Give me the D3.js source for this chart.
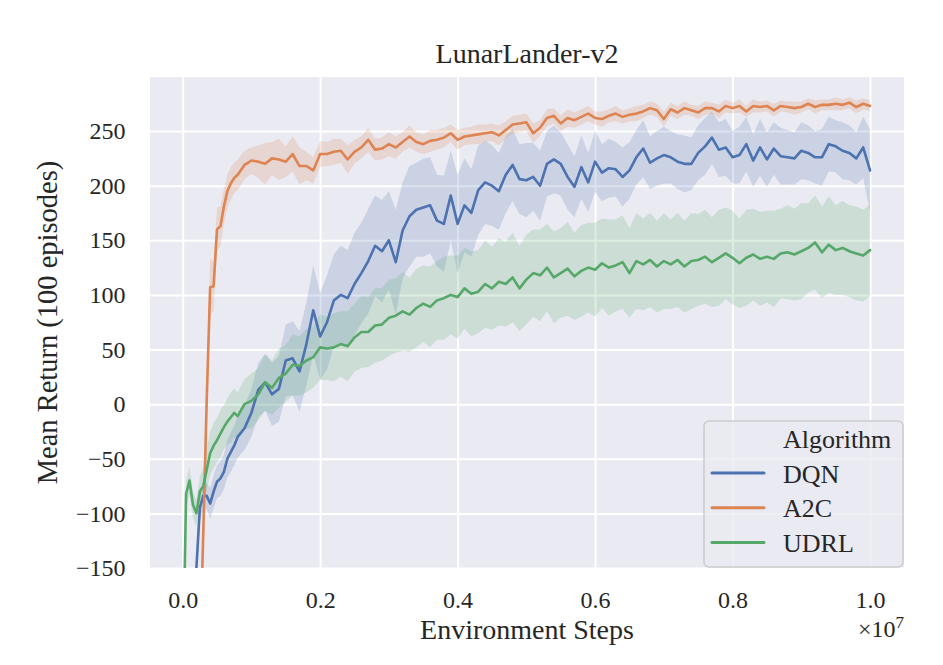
<!DOCTYPE html>
<html>
<head>
<meta charset="utf-8">
<script src="https://cdn.jsdelivr.net/npm/d3@7"></script>
<style>
  body { margin: 0; background: #fff; }
  text { font-family: "Liberation Serif", "Times New Roman", serif; fill: #262626; }
</style>
</head>
<body>
<div id="chart"></div>
<script>
// environment steps, in units of 1e7
const steps = [0, 0.005, 0.01, 0.015, 0.02, 0.025, 0.03, 0.035, 0.04, 0.045, 0.05, 0.055, 0.06, 0.065, 0.07, 0.075, 0.08,
  0.09, 0.10, 0.11, 0.12, 0.13, 0.14, 0.15, 0.16, 0.17, 0.18, 0.19, 0.20, 0.21, 0.22, 0.23, 0.24, 0.25, 0.26, 0.27, 0.28,
  0.29, 0.30, 0.31, 0.32, 0.33, 0.34, 0.35, 0.36, 0.37, 0.38, 0.39, 0.40, 0.41, 0.42, 0.43, 0.44, 0.45, 0.46, 0.47, 0.48,
  0.49, 0.50, 0.51, 0.52, 0.53, 0.54, 0.55, 0.56, 0.57, 0.58, 0.59, 0.60, 0.61, 0.62, 0.63, 0.64, 0.65, 0.66, 0.67, 0.68,
  0.69, 0.70, 0.71, 0.72, 0.73, 0.74, 0.75, 0.76, 0.77, 0.78, 0.79, 0.80, 0.81, 0.82, 0.83, 0.84, 0.85, 0.86, 0.87, 0.88,
  0.89, 0.90, 0.91, 0.92, 0.93, 0.94, 0.95, 0.96, 0.97, 0.98, 0.99, 1.00];

const dqn_mean = [-400, -400, -400, -300, -150, -95, -84, -84, -91, -80, -71, -68, -62, -50, -44, -38, -30,
  -22, -8, 13, 20, 9, 14, 40, 42, 30, 55,
  86, 62, 75, 95, 100, 97, 110, 120, 131, 145,
  140, 150, 130, 159, 172, 178, 180, 182, 168, 165,
  191, 165, 182, 175, 196, 203, 200, 195, 210, 219,
  206, 205, 208, 200, 220, 224, 220, 208, 199, 217,
  203, 222, 212, 216, 215, 208, 214, 226, 234, 221,
  225, 228, 226, 222, 220, 220, 230, 236, 244, 233,
  235, 226, 228, 238, 223, 235, 224, 234, 227, 226,
  225, 232, 230, 226, 226, 238, 236, 232, 230, 225,
  235, 214];
const dqn_ci = [10, 10, 10, 10, 12, 12, 13, 12, 14, 15, 15, 16, 16, 17, 18, 18, 19,
  20, 22, 25, 26, 29, 30, 33, 34, 37, 38,
  41, 40, 43, 42, 45, 44, 47, 46, 48, 46,
  47, 45, 48, 44, 46, 43, 45, 44, 42, 44,
  41, 45, 43, 40, 41, 38, 37, 35, 35, 33,
  32, 34, 31, 32, 30, 31, 29, 30, 28, 29,
  27, 28, 26, 27, 25, 27, 26, 25, 26, 24,
  25, 26, 24, 25, 26, 24, 25, 26, 24, 25,
  26, 24, 26, 25, 24, 26, 25, 24, 26, 25,
  24, 26, 25, 24, 26, 25, 24, 26, 25, 24,
  28, 38];

const a2c_mean = [-400, -400, -400, -400, -400, -238, -118, 4, 107, 108, 160, 163, 181, 195, 202, 207, 210,
  219, 223, 222, 220, 225, 224, 222, 229, 218, 218,
  214, 229, 229, 231, 232, 224, 231, 235, 242, 233,
  234, 238, 235, 240, 245, 240, 238, 241, 242, 244,
  248, 242, 245, 246, 247, 248, 249, 246, 251, 256,
  257, 258, 248, 253, 262, 264, 257, 262, 260, 263,
  266, 262, 261, 264, 266, 263, 265, 266, 268, 271,
  269, 261, 270, 267, 271, 269, 267, 271, 271, 268,
  273, 271, 273, 268, 273, 272, 273, 269, 273, 272,
  271, 272, 275, 272, 274, 274, 275, 274, 276, 272,
  275, 273];
const a2c_ci = [10, 10, 10, 10, 10, 20, 25, 25, 26, 22, 20, 18, 16, 15, 15, 14, 14,
  13, 12, 15, 19, 15, 19, 14, 16, 17, 13,
  12, 12, 11, 12, 11, 13, 11, 10, 11, 10,
  10, 11, 10, 9, 10, 9, 9, 10, 9, 9,
  8, 9, 8, 8, 9, 8, 8, 9, 8, 8,
  8, 8, 9, 7, 8, 7, 7, 8, 7, 7,
  7, 6, 7, 6, 7, 6, 6, 7, 6, 6,
  6, 7, 6, 6, 6, 5, 6, 6, 5, 6,
  6, 5, 6, 5, 6, 5, 5, 6, 5, 5,
  6, 5, 5, 6, 5, 5, 6, 5, 5, 6,
  5, 5];

const udrl_mean = [-260, -82, -70, -92, -100, -80, -75, -60, -45, -38, -33, -27, -21, -16, -12, -8, -11,
  0, 3, 9, 20, 15, 24, 28, 36, 35, 40,
  43, 52, 51, 52, 55, 53, 61, 66, 66, 72,
  73, 79, 81, 85, 82, 88, 92, 89, 95, 97,
  100, 98, 106, 101, 103, 110, 106, 112, 110, 116,
  106, 114, 120, 118, 125, 116, 120, 124, 117, 122,
  125, 123, 129, 125, 127, 130, 120, 131, 128, 132,
  126, 131, 128, 132, 126, 131, 132, 135, 130, 134,
  138, 134, 129, 134, 137, 133, 135, 133, 138, 139,
  137, 140, 143, 148, 139, 146, 141, 143, 140, 138,
  136, 141];
const udrl_ci = [10, 12, 13, 12, 12, 14, 16, 18, 20, 21, 20, 22, 20, 21, 23, 22, 22,
  23, 25, 24, 26, 25, 27, 26, 28, 27, 29,
  28, 30, 29, 31, 30, 32, 31, 33, 32, 34,
  33, 35, 34, 36, 34, 36, 35, 37, 36, 38,
  36, 38, 37, 39, 38, 40, 38, 40, 39, 41,
  39, 41, 40, 42, 40, 42, 41, 43, 40, 42,
  41, 43, 41, 44, 42, 43, 41, 44, 42, 43,
  42, 44, 41, 43, 42, 44, 42, 43, 41, 44,
  42, 43, 41, 44, 42, 43, 42, 44, 41, 43,
  42, 44, 41, 43, 42, 44, 41, 43, 42, 43,
  42, 42];

const algos = ['DQN', 'A2C', 'UDRL'];
const colors = ['#4c72b0', '#dd8452', '#55a868'];
const x_ticks = [0, 0.2, 0.4, 0.6, 0.8, 1.0];
const y_ticks = [-150, -100, -50, 0, 50, 100, 150, 200, 250];

const WIDTH = 943, HEIGHT = 665;
const PLOT = { LEFT: 150, RIGHT: 904, TOP: 77, BOTTOM: 568 };

let series = [
  { name: 'DQN', mean: dqn_mean, ci: dqn_ci },
  { name: 'A2C', mean: a2c_mean, ci: a2c_ci },
  { name: 'UDRL', mean: udrl_mean, ci: udrl_ci }
];

let svg = d3.select('#chart').append('svg')
  .attr('width', WIDTH)
  .attr('height', HEIGHT);

let x = d3.scaleLinear().domain([-0.0475, 1.0494]).range([PLOT.LEFT, PLOT.RIGHT]);
let y = d3.scaleLinear().domain([-150, 299.5]).range([PLOT.BOTTOM, PLOT.TOP]);

svg.append('defs').append('clipPath').attr('id', 'plot-clip')
  .append('rect')
  .attr('x', PLOT.LEFT).attr('y', PLOT.TOP)
  .attr('width', PLOT.RIGHT - PLOT.LEFT)
  .attr('height', PLOT.BOTTOM - PLOT.TOP);

// background
svg.append('rect')
  .attr('x', PLOT.LEFT).attr('y', PLOT.TOP)
  .attr('width', PLOT.RIGHT - PLOT.LEFT)
  .attr('height', PLOT.BOTTOM - PLOT.TOP)
  .attr('fill', '#eaeaf2');

// axes + grid
let x_axis = svg.append('g')
  .attr('transform', `translate(0,${PLOT.BOTTOM})`)
  .call(d3.axisBottom(x).tickValues(x_ticks).tickFormat(d3.format('.1f'))
    .tickSize(-(PLOT.BOTTOM - PLOT.TOP)).tickPadding(23));
let y_axis = svg.append('g')
  .attr('transform', `translate(${PLOT.LEFT},0)`)
  .call(d3.axisLeft(y).tickValues(y_ticks).tickFormat(d => d < 0 ? '\u2212' + Math.abs(d) : d)
    .tickSize(-(PLOT.RIGHT - PLOT.LEFT)).tickPadding(24.5));

[x_axis, y_axis].forEach(ax => {
  ax.select('.domain').remove();
  ax.selectAll('line').attr('stroke', '#fff').attr('stroke-width', 2);
  ax.selectAll('text').attr('font-size', 24).attr('font-family', null).attr('fill', '#262626');
});

let plot = svg.append('g').attr('clip-path', 'url(#plot-clip)');

// confidence bands
series.forEach((s, i) => {
  let area = d3.area()
    .x((d, j) => x(steps[j]))
    .y0((d, j) => y(s.mean[j] - s.ci[j]))
    .y1((d, j) => y(s.mean[j] + s.ci[j]));
  plot.append('path')
    .datum(s.mean)
    .attr('d', area)
    .attr('fill', colors[i])
    .attr('fill-opacity', 0.2);
});

// mean lines
series.forEach((s, i) => {
  let line = d3.line()
    .x((d, j) => x(steps[j]))
    .y(d => y(d));
  plot.append('path')
    .datum(s.mean)
    .attr('d', line)
    .attr('fill', 'none')
    .attr('stroke', colors[i])
    .attr('stroke-width', 2.6)
    .attr('stroke-linejoin', 'round')
    .attr('stroke-linecap', 'round');
});

// title and labels
svg.append('text')
  .attr('x', (PLOT.LEFT + PLOT.RIGHT) / 2).attr('y', 63)
  .attr('text-anchor', 'middle').attr('font-size', 28)
  .text('LunarLander-v2');

svg.append('text')
  .attr('x', (PLOT.LEFT + PLOT.RIGHT) / 2).attr('y', 639)
  .attr('text-anchor', 'middle').attr('font-size', 28)
  .text('Environment Steps');

svg.append('text')
  .attr('transform', `translate(57,${(PLOT.TOP + PLOT.BOTTOM) / 2}) rotate(-90)`)
  .attr('text-anchor', 'middle').attr('font-size', 28.5)
  .text('Mean Return (100 episodes)');

let offset = svg.append('text')
  .attr('x', PLOT.RIGHT).attr('y', 637)
  .attr('text-anchor', 'end').attr('font-size', 24);
offset.append('tspan').text('\u00d710');
offset.append('tspan').attr('font-size', 17).attr('dy', -9).text('7');

// legend
let legend = svg.append('g').attr('transform', 'translate(704,421)');
legend.append('rect')
  .attr('width', 199).attr('height', 146)
  .attr('rx', 5)
  .attr('fill', '#eaeaf2').attr('fill-opacity', 0.8)
  .attr('stroke', '#cccccc').attr('stroke-width', 1.5);
legend.append('text')
  .attr('x', 79).attr('y', 27)
  .attr('font-size', 26)
  .text('Algorithm');
algos.forEach((name, i) => {
  let ly = 52 + i * 34.7;
  legend.append('line')
    .attr('x1', 8).attr('x2', 60)
    .attr('y1', ly).attr('y2', ly)
    .attr('stroke', colors[i]).attr('stroke-width', 3)
    .attr('stroke-linecap', 'round');
  legend.append('text')
    .attr('x', 79).attr('y', ly + 9.5)
    .attr('font-size', 26)
    .text(name);
});
</script>
</body>
</html>
